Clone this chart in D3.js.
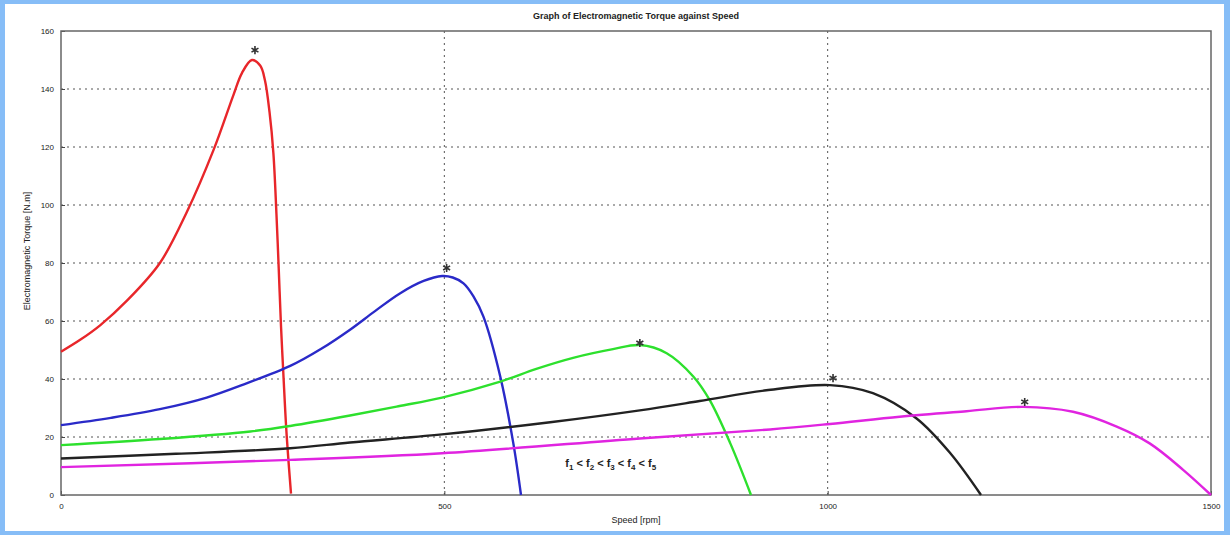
<html>
  <head>
    <script src="https://cdn.jsdelivr.net/npm/d3@7"></script>
    <style>
      body { margin: 0; background: #86bdf7; }
      text { font-family: "Liberation Sans", Arial, sans-serif; fill: #222; }
    </style>
  </head>
  <body>
    <div id="chart"></div>
    <script>
      // series: speed [rpm] / torque [N.m]
      let redSpeed = [0, 25, 51, 86, 129, 164, 199, 225, 236, 249, 260, 266, 272, 277, 281, 284, 287, 290, 294, 300];
      let redTorque = [49.4, 53.5, 58.5, 67, 80, 97.5, 119, 138, 145.5, 150, 148, 143, 132, 118, 97, 78, 58, 42, 22, 0.5];

      let blueSpeed = [0, 65, 129, 190, 242, 299, 340, 377, 410, 442, 473, 497, 511, 525, 538, 551, 573, 590, 600];
      let blueTorque = [24.1, 26.6, 29.6, 33.6, 38.5, 44.5, 50.5, 57, 63.5, 69.5, 73.8, 75.5, 75, 73, 68.5, 61.5, 40.8, 17.8, 0];

      let greenSpeed = [0, 129, 247, 299, 377, 440, 497, 573, 620, 668, 720, 755, 790, 825, 846, 873, 900];
      let greenTorque = [17.2, 19.3, 21.9, 23.8, 27.4, 30.6, 33.6, 39.1, 43.5, 47.3, 50.3, 51.7, 48.9, 40.8, 32.8, 17.8, 0];

      let blackSpeed = [0, 150, 299, 377, 497, 638, 755, 833, 920, 1003, 1059, 1116, 1160, 1200];
      let blackTorque = [12.6, 14.2, 16.1, 18.1, 20.9, 25.1, 29.2, 32.4, 36.1, 37.9, 35.1, 26.4, 14.4, 0];

      let magentaSpeed = [0, 299, 497, 755, 925, 1003, 1094, 1181, 1255, 1320, 1377, 1420, 1464, 1500];
      let magentaTorque = [9.6, 12.1, 14.4, 19.5, 22.6, 24.5, 27, 28.9, 30.4, 28.7, 23.6, 17.8, 8.6, 0];

      // peak markers
      let markerSpeed = [253, 503, 755, 1007, 1257];
      let markerTorque = [153.4, 78.3, 52.4, 40.3, 32.1];

      let xTicks = [0, 500, 1000, 1500];
      let yTicks = [0, 20, 40, 60, 80, 100, 120, 140, 160];

      let series = [
        { speed: redSpeed, torque: redTorque, color: "#e8262a" },
        { speed: blueSpeed, torque: blueTorque, color: "#2a2ac8" },
        { speed: greenSpeed, torque: greenTorque, color: "#2de02d" },
        { speed: blackSpeed, torque: blackTorque, color: "#222222" },
        { speed: magentaSpeed, torque: magentaTorque, color: "#e024e0" },
      ];

      let W = 1230, H = 535;
      let margin = { top: 31, right: 19, bottom: 40, left: 61 },
        width = W - margin.left - margin.right,
        height = H - margin.top - margin.bottom;

      let svg = d3.select("#chart").append("svg")
        .attr("width", W).attr("height", H)
        .style("display", "block");

      // white card inside the blue frame
      svg.append("rect")
        .attr("x", 5).attr("y", 4)
        .attr("width", W - 11).attr("height", H - 8)
        .attr("fill", "#ffffff");

      let vis = svg.append("g")
        .attr("transform", "translate(" + margin.left + "," + margin.top + ")");

      let x = d3.scaleLinear().domain([0, 1500]).range([0, width]);
      let y = d3.scaleLinear().domain([0, 160]).range([height, 0]);

      // grid
      vis.append("g")
        .selectAll("line")
        .data(yTicks.slice(1, -1))
        .enter().append("line")
        .attr("x1", 0).attr("x2", width)
        .attr("y1", (d) => y(d)).attr("y2", (d) => y(d))
        .attr("stroke", "#555").attr("stroke-width", 1)
        .attr("stroke-dasharray", "2,4");
      vis.append("g")
        .selectAll("line")
        .data(xTicks.slice(1, -1))
        .enter().append("line")
        .attr("y1", 0).attr("y2", height)
        .attr("x1", (d) => x(d)).attr("x2", (d) => x(d))
        .attr("stroke", "#555").attr("stroke-width", 1)
        .attr("stroke-dasharray", "2,4");

      // axes (ticks inside, like matlab)
      let fmt = d3.format("d");
      let xAxis = d3.axisBottom(x).tickValues(xTicks).tickFormat(fmt).tickSizeInner(-4).tickSizeOuter(0).tickPadding(8);
      let yAxis = d3.axisLeft(y).tickValues(yTicks).tickFormat(fmt).tickSizeInner(-4).tickSizeOuter(0).tickPadding(7);

      let gx = vis.append("g").attr("transform", "translate(0," + height + ")").call(xAxis);
      let gy = vis.append("g").call(yAxis);
      [gx, gy].forEach((g) => {
        g.select(".domain").remove();
        g.selectAll(".tick line").attr("stroke", "#444");
        g.selectAll(".tick text").style("font-size", "8px").style("fill", "#222");
      });

      // box
      vis.append("rect")
        .attr("width", width).attr("height", height)
        .attr("fill", "none").attr("stroke", "#666").attr("stroke-width", 1.5);

      // curves
      let line = d3.line()
        .curve(d3.curveCatmullRom.alpha(0.5))
        .x((d) => x(d[0]))
        .y((d) => y(d[1]));

      series.forEach((s) => {
        vis.append("path")
          .datum(d3.zip(s.speed, s.torque))
          .attr("fill", "none")
          .attr("stroke", s.color)
          .attr("stroke-width", 2.4)
          .attr("stroke-linejoin", "round")
          .attr("d", line);
      });

      vis.append("g")
        .selectAll("path")
        .data(d3.zip(markerSpeed, markerTorque))
        .enter().append("path")
        .attr("transform", (d) => "translate(" + x(d[0]) + "," + y(d[1]) + ")")
        .attr("d", d3.symbol().type(d3.symbolAsterisk).size(45))
        .attr("fill", "none")
        .attr("stroke", "#333")
        .attr("stroke-width", 1.6);

      // text
      svg.append("text")
        .attr("x", margin.left + width / 2).attr("y", 19)
        .attr("text-anchor", "middle")
        .style("font-size", "9px").style("font-weight", "bold")
        .text("Graph of Electromagnetic Torque against Speed");

      svg.append("text")
        .attr("x", margin.left + width / 2).attr("y", 523)
        .attr("text-anchor", "middle")
        .style("font-size", "9px")
        .text("Speed [rpm]");

      svg.append("text")
        .attr("transform", "translate(30," + (margin.top + 220) + ") rotate(-90)")
        .attr("text-anchor", "middle")
        .style("font-size", "9px")
        .text("Electromagnetic Torque [N.m]");

      // frequency note
      let note = vis.append("text")
        .attr("x", x(717)).attr("y", y(9.5))
        .attr("text-anchor", "middle")
        .style("font-size", "11px").style("font-weight", "bold");
      [1, 2, 3, 4, 5].forEach((i) => {
        note.append("tspan").text("f");
        note.append("tspan").attr("dy", 3).style("font-size", "8px").text(i);
        note.append("tspan").attr("dy", -3).text(i < 5 ? " < " : "");
      });
    </script>
  </body>
</html>
